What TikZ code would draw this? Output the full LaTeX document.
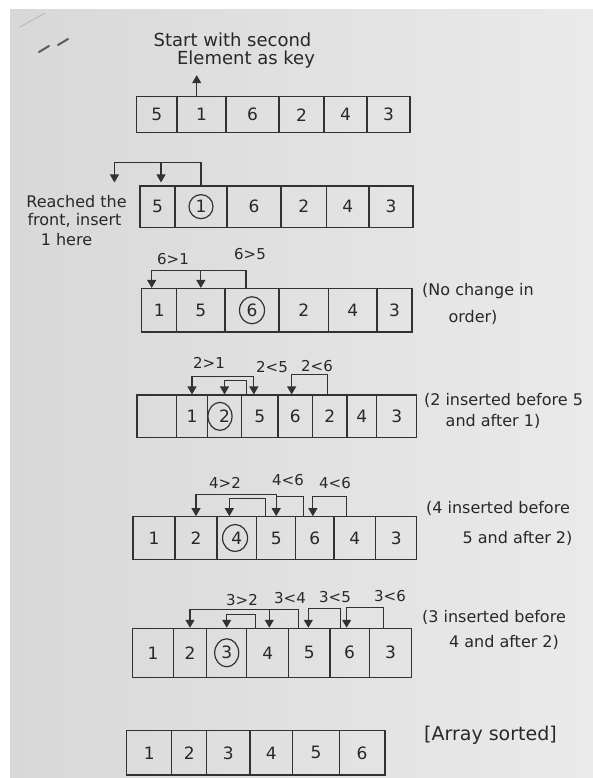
\documentclass[tikz,border=0pt]{standalone}
\usepackage{fontspec}
\setmainfont{DejaVu Sans}
\usetikzlibrary{arrows.meta}
\definecolor{pen}{RGB}{50,50,50}
\definecolor{ink}{RGB}{40,40,40}
\definecolor{bgL}{RGB}{216,216,216}
\definecolor{bgR}{RGB}{234,234,234}
\newcommand\arrayrow[4]{%
  \foreach \a/\b/\t [count=\i] in {#4} {
    \pgfmathsetmacro\cw{\b-\a}
    \pgfmathsetmacro\cx{(\a+\b)/2}
    \pgfmathsetmacro\ch{#3-#2}
    \pgfmathsetmacro\cy{(#2+#3)/2}
    \node[cell, minimum width=\cw pt, minimum height=\ch pt] (#1c\i) at (\cx,\cy) {\t};
  }%
}
\begin{document}
\begin{tikzpicture}[x=1pt, y=-1pt,
  cell/.style={draw=pen, line width=1.1pt, inner sep=0pt, text=ink, font=\fontsize{17}{20}\selectfont},
  lbl/.style={inner sep=0pt, text=ink, font=\fontsize{15}{18}\selectfont},
  note/.style={inner sep=0pt, text=ink, font=\fontsize{16}{19}\selectfont},
  penline/.style={draw=pen, line width=1.2pt},
  arr/.style={penline, -{Triangle[width=9pt,length=8pt]}},
  arrboth/.style={penline, {Triangle[width=9pt,length=8pt]}-{Triangle[width=9pt,length=8pt]}}]
% background
\fill[white] (0,0) rectangle (593,778);
\shade[left color=bgL, right color=bgR] (10,10) rectangle (593,778);
\useasboundingbox (0,0) rectangle (593,778);
% stray marks
\draw[gray!55, line width=1pt] (20,27) -- (45,13);
\draw[pen!80, line width=2pt, line cap=round] (39,52) -- (49,46);
\draw[pen!80, line width=2pt, line cap=round] (58,45) -- (68,39);

% ---------- Row 1 ----------
\arrayrow{r1}{96.7}{132.7}{136.7/177/5, 177/226/1, 226/279/6, 279/324/2, 324/367/4, 367/410/3}
\node[note, font=\fontsize{18}{21}\selectfont] (k1) at (232.5,40) {Start with second};
\node[note, font=\fontsize{18}{21}\selectfont] (k2) at (246,60) {Element as key};
\draw[arr] ([xshift=-4.8pt]r1c2.north) -- ++(0,-21);

% ---------- Row 2 ----------
\arrayrow{r2}{186}{227.3}{140/175/5, 175/227/1, 227/281/6, 281/326.5/2, 326.5/369/4, 369/413/3}
\draw[penline] (r2c2.center) ellipse[x radius=12pt, y radius=12pt];
\draw[arr] (r2c2.north) -- ++(0,-23) -| ([xshift=-25pt,yshift=3pt]r2c1.north west);
\draw[arr] ([xshift=3.5pt,yshift=23pt]r2c1.north) -- ([xshift=3.5pt,yshift=3pt]r2c1.north);
\node[note] (t2a) at (76.5,201.7) {Reached the};
\node[note] (t2b) at (74.5,220) {front, insert};
\node[note] (t2c) at (66.5,239.3) {1 here};

% ---------- Row 3 ----------
\arrayrow{r3}{288.5}{332}{141.7/176.7/1, 176.7/225/5, 225/279/6, 279/328.7/2, 328.7/377/4, 377/412/3}
\draw[penline] (r3c3.center) ellipse[x radius=12.5pt, y radius=13.5pt];
\draw[arr] ([xshift=-6pt]r3c3.north) -- ++(0,-17.5) -| ([xshift=-7.5pt]r3c1.north);
\draw[arr] ([yshift=17.5pt]r3c2.north) -- (r3c2.north);
\node[lbl] (l3a) at (173,259) {6>1};
\node[lbl] (l3b) at (250,254) {6>5};
\node[note] (t3a) at (478,290.7) {(No change in};
\node[note] (t3b) at (473,317.7) {order)};

% ---------- Row 4 ----------
\arrayrow{r4}{395}{437.7}{137/176.7/{}, 176.7/207.3/1, 207.3/241.7/2, 241.7/278/5, 278/312.7/6, 312.7/347/2, 347/376.7/4, 376.7/416.7/3}
\draw[penline] ([xshift=-4.5pt]r4c3.center) ellipse[x radius=12pt, y radius=14pt];
\draw[arrboth] (r4c2.north) -- ++(0,-17.7) -| ([xshift=-6pt]r4c4.north);
\draw[arr] ([xshift=5pt]r4c4.north west) -- ++(0,-14) -| (r4c3.north);
\draw[arr] ([xshift=-2pt]r4c6.north) -- ++(0,-19.7) -| ([xshift=-3.7pt]r4c5.north);
\node[lbl] (l4a) at (209,363) {2>1};
\node[lbl] (l4b) at (272,367) {2<5};
\node[lbl] (l4c) at (317,366) {2<6};
\node[note] (t4a) at (503.5,400) {(2 inserted before 5};
\node[note] (t4b) at (493,421.7) {and after 1)};

% ---------- Row 5 ----------
\arrayrow{r5}{516.7}{559.3}{133/175/1, 175/217/2, 217/256.7/4, 256.7/295.7/5, 295.7/334/6, 334/375.7/4, 375.7/416.7/3}
\draw[penline] ([xshift=-1.8pt]r5c3.center) ellipse[x radius=12.5pt, y radius=13.5pt];
\draw[arrboth] (r5c2.north) -- ++(0,-21.7) -| (r5c4.north);
\draw[penline] ([xshift=8.6pt]r5c5.north west) |- ([yshift=19.7pt]r5c4.north);
\draw[arr] ([xshift=9pt]r5c4.north west) -- ++(0,-17.4) -| ([xshift=-7.5pt]r5c3.north);
\draw[arr] ([xshift=13.3pt]r5c6.north west) -- ++(0,-20) -| ([xshift=-2pt]r5c5.north);
\node[lbl] (l5a) at (225,483) {4>2};
\node[lbl] (l5b) at (288,480) {4<6};
\node[lbl] (l5c) at (335,483) {4<6};
\node[note] (t5a) at (498,508) {(4 inserted before};
\node[note] (t5b) at (517.5,538) {5 and after 2)};

% ---------- Row 6 ----------
\arrayrow{r6}{628.3}{677.3}{132.7/173.3/1, 173.3/206.7/2, 206.7/246.7/3, 246.7/288.7/4, 288.7/330/5, 330/369.3/6, 369.3/411.7/3}
\draw[penline] (r6c3.center) ellipse[x radius=12pt, y radius=14pt];
\draw[arr] ([xshift=10.6pt]r6c5.north west) -- ++(0,-18.3) -| (r6c2.north);
\draw[arr] ([xshift=1.6pt,yshift=18.3pt]r6c4.north) -- ([xshift=1.6pt]r6c4.north);
\draw[arr] ([xshift=9.3pt]r6c4.north west) -- ++(0,-13.3) -| (r6c3.north);
\draw[arr] ([xshift=10.7pt]r6c6.north west) -- ++(0,-19) -| ([xshift=-1pt]r6c5.north);
\draw[arr] ([xshift=15pt]r6c7.north west) -- ++(0,-20) -| ([xshift=-3pt]r6c6.north);
\node[lbl] (l6a) at (242,600) {3>2};
\node[lbl] (l6b) at (290,598) {3<4};
\node[lbl] (l6c) at (335,597) {3<5};
\node[lbl] (l6d) at (390,596) {3<6};
\node[note] (t6a) at (494,617) {(3 inserted before};
\node[note] (t6b) at (504,642) {4 and after 2)};

% ---------- Row 7 ----------
\arrayrow{r7}{730.7}{775}{126.7/171.7/1, 171.7/206.7/2, 206.7/250/3, 250/292.7/4, 292.7/339.3/5, 339.3/385/6}
\node[note, font=\fontsize{19}{22}\selectfont] (t7) at (490.5,735) {[Array sorted]};
\end{tikzpicture}
\end{document}
